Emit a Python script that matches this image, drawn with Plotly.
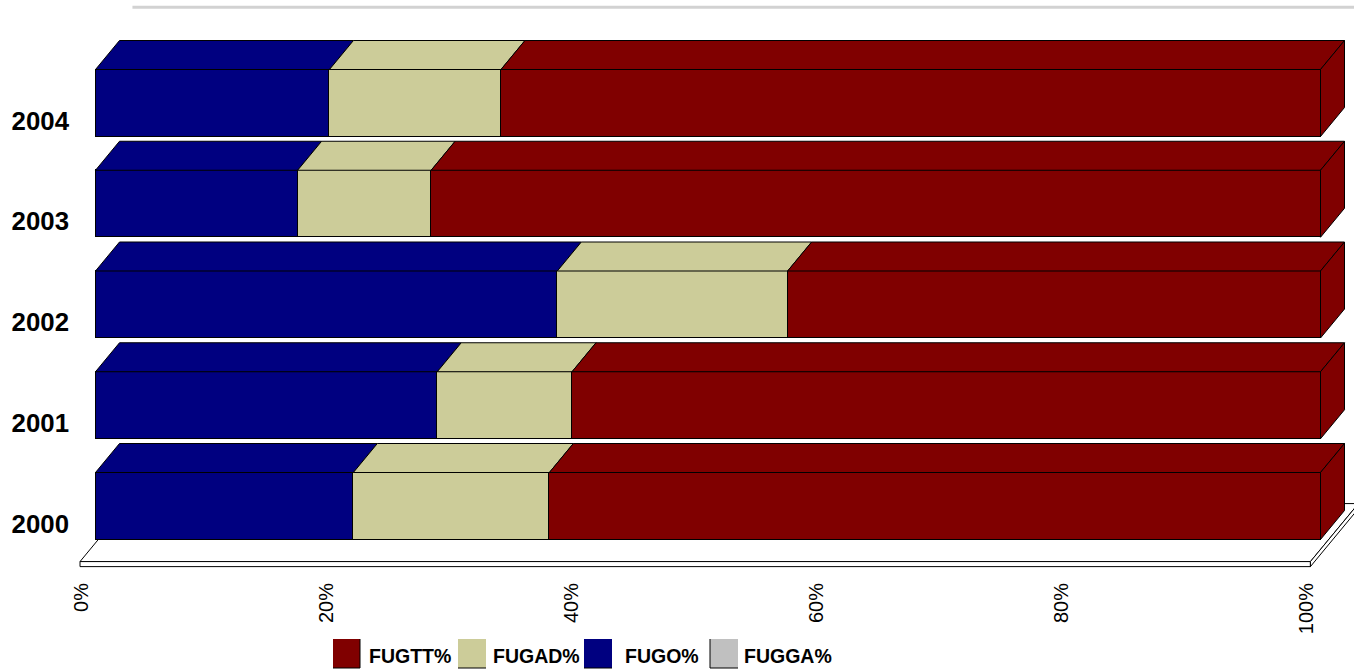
import plotly.graph_objects as go

years = [2000, 2001, 2002, 2003, 2004]
fugga = [0, 0, 0, 0, 0]
fugo = [21.05, 27.9, 37.7, 16.5, 19.1]
fugad = [16.0, 11.0, 18.8, 10.9, 14.0]
fugtt = [62.95, 61.1, 43.5, 72.6, 66.9]
series_names = ["FUGGA%", "FUGO%", "FUGAD%", "FUGTT%"]
series_values = [fugga, fugo, fugad, fugtt]
series_colors = ["#C0C0C0", "#000080", "#CCCC99", "#800000"]
pct_ticks = [0, 20, 40, 60, 80, 100]

W, H = 1354, 671
FONT = "Liberation Sans, Arial, sans-serif"
PX_PER_PCT = 12.25
PX_PER_YEAR = 100.75
BAR_H = 67 / PX_PER_YEAR
DX = 24 / PX_PER_PCT
DY = 29 / PX_PER_YEAR

def xrange_for(zero_px):
    return [(0 - zero_px) / PX_PER_PCT, (W - zero_px) / PX_PER_PCT]

def yrange_for(y2000_px):
    return [2000 + (y2000_px - H) / PX_PER_YEAR, 2000 + y2000_px / PX_PER_YEAR]

fig = go.Figure()
LINE = dict(color="#000000", width=1)

# floor slab, on the base axes, beneath the overlaid bars
fl_l, fl_r, fl_t, fl_b = -0.08, 100.36, 1999.622, 1999.572
fdx, fdy = 2 * DX, 2 * DY
fig.add_trace(go.Scatter(
    x=[fl_l, fl_l + fdx, fl_r + fdx, fl_r, fl_l],
    y=[fl_t, fl_t + fdy, fl_t + fdy, fl_t, fl_t],
    mode="lines", line=LINE, fill="toself", fillcolor="#FFFFFF",
    hoverinfo="skip", showlegend=False))
fig.add_trace(go.Scatter(
    x=[fl_l, fl_r, fl_r, fl_l, fl_l],
    y=[fl_t, fl_t, fl_b, fl_b, fl_t],
    mode="lines", line=LINE, fill="toself", fillcolor="#FFFFFF",
    hoverinfo="skip", showlegend=False))
fig.add_trace(go.Scatter(
    x=[fl_r, fl_r + fdx, fl_r + fdx, fl_r, fl_r],
    y=[fl_t, fl_t + fdy, fl_b + fdy, fl_b, fl_t],
    mode="lines", line=LINE, fill="toself", fillcolor="#FFFFFF",
    hoverinfo="skip", showlegend=False))
# back wall top edge
fig.add_trace(go.Scatter(
    x=[4.2, 104], y=[2005.125, 2005.125], mode="lines",
    line=dict(color="#D2D2D2", width=3), hoverinfo="skip", showlegend=False))

# front faces of the bars
for name, vals, col in zip(series_names, series_values, series_colors):
    fig.add_trace(go.Bar(
        name=name, y=years, x=vals, orientation="h", width=BAR_H,
        marker=dict(color=col, line=LINE),
        xaxis="x2", yaxis="y2", showlegend=False))

# top faces, derived from the stacked values
cum = [0.0] * len(years)
for name, vals, col in zip(series_names, series_values, series_colors):
    xs, ys = [], []
    for i, yr in enumerate(years):
        a, b = cum[i], cum[i] + vals[i]
        t = yr + BAR_H / 2
        xs += [a, a + DX, b + DX, b, a, None]
        ys += [t, t + DY, t + DY, t, t, None]
        cum[i] = b
    if any(vals):
        fig.add_trace(go.Scatter(
            x=xs, y=ys, mode="lines", line=LINE, fill="toself", fillcolor=col,
            xaxis="x2", yaxis="y2", hoverinfo="skip", showlegend=False))

# right side faces at the end of each stack
xs, ys = [], []
for i, yr in enumerate(years):
    r, t, b = cum[i], yr + BAR_H / 2, yr - BAR_H / 2
    xs += [r, r + DX, r + DX, r, r, None]
    ys += [t, t + DY, b + DY, b, t, None]
fig.add_trace(go.Scatter(
    x=xs, y=ys, mode="lines", line=LINE, fill="toself", fillcolor=series_colors[-1],
    xaxis="x2", yaxis="y2", hoverinfo="skip", showlegend=False))

# legend, laid out as in the reference
legend_items = [
    ("FUGTT%", "#800000", 333, 360, 367),
    ("FUGAD%", "#CCCC99", 458, 486, 491),
    ("FUGO%", "#000080", 584, 612, 623),
    ("FUGGA%", "#C0C0C0", 710, 738, 742),
]
shapes, annotations = [], []
for name, col, x0, x1, tx in legend_items:
    shapes.append(dict(type="rect", xref="paper", yref="paper",
                       x0=x0 / W, x1=x1 / W, y0=1 - 668 / H, y1=1 - 639 / H,
                       fillcolor=col, line=dict(width=0)))
    shapes.append(dict(type="line", xref="paper", yref="paper",
                       x0=x0 / W, x1=x1 / W, y0=1 - 668 / H, y1=1 - 668 / H,
                       line=dict(color="#000000", width=1)))
    annotations.append(dict(text=f"<b>{name}</b>", xref="paper", yref="paper",
                            x=tx / W, y=1 - 656 / H, xanchor="left", yanchor="middle",
                            showarrow=False, font=dict(family=FONT, size=19.5, color="#000000")))
shapes.append(dict(type="line", xref="paper", yref="paper", x0=360 / W, x1=360 / W,
                   y0=1 - 668 / H, y1=1 - 639 / H, line=dict(color="#000000", width=1)))
shapes.append(dict(type="line", xref="paper", yref="paper", x0=710 / W, x1=710 / W,
                   y0=1 - 668 / H, y1=1 - 639 / H, line=dict(color="#000000", width=1)))

fig.update_layout(
    width=W, height=H, margin=dict(l=0, r=0, t=0, b=0),
    paper_bgcolor="#FFFFFF", plot_bgcolor="#FFFFFF",
    barmode="stack", bargap=0, showlegend=False,
    shapes=shapes, annotations=annotations,
    font=dict(family=FONT, color="#000000"),
    xaxis=dict(range=xrange_for(81), domain=[0, 1], anchor="free", position=1 - 578 / H,
               tickmode="array", tickvals=pct_ticks, ticktext=[f"{v}%" for v in pct_ticks],
               tickangle=-90, ticks="", showline=False, showgrid=False, zeroline=False,
               tickfont=dict(family=FONT, size=20, color="#000000")),
    yaxis=dict(range=yrange_for(523.5), domain=[0, 1], anchor="free", position=69 / W,
               tickmode="array", tickvals=years, ticktext=[f"<b>{y}</b>" for y in years],
               ticks="", showline=False, showgrid=False, zeroline=False,
               tickfont=dict(family=FONT, size=25.8, color="#000000")),
    xaxis2=dict(range=xrange_for(95.5), overlaying="x", anchor="y2", visible=False),
    yaxis2=dict(range=yrange_for(506), overlaying="y", anchor="x2", visible=False),
)

fig.write_html("out.html", config={"displayModeBar": False},
               post_script="document.body.style.margin='0';document.documentElement.style.overflow='hidden';")
